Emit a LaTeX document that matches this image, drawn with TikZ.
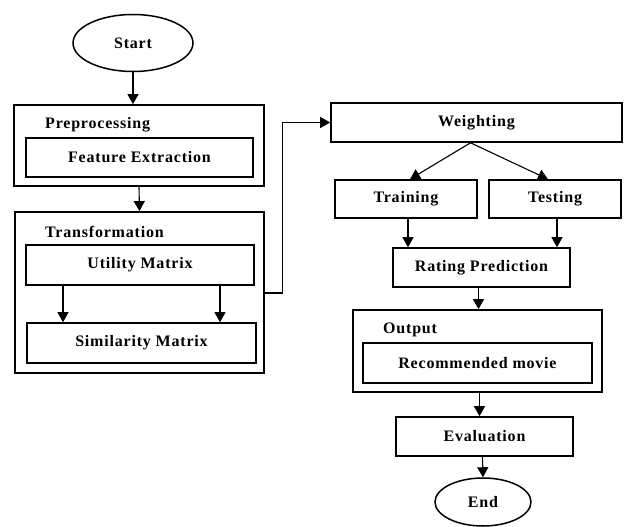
\documentclass[tikz,border=0pt]{standalone}
\usepackage{fontspec}
\setmainfont{Liberation Serif}[LetterSpace=5]
\usetikzlibrary{arrows.meta,shapes.geometric}

\tikzset{
    box/.style={draw, line width=1.6pt, rectangle, inner sep=0pt, font=\fontsize{16}{19}\selectfont\bfseries},
    group/.style={draw, line width=1.8pt, rectangle, inner sep=0pt},
    term/.style={draw, line width=1.5pt, ellipse, inner sep=0pt, font=\fontsize{16}{19}\selectfont\bfseries},
    title/.style={anchor=west, inner sep=0pt, font=\fontsize{16}{19}\selectfont\bfseries},
    arr/.style={line width=1.1pt, -{Triangle[width=11pt,length=10pt]}}
}

\begin{document}
\begin{tikzpicture}[x=1pt, y=-1pt]
\useasboundingbox (0,0) rectangle (625,527);

% left column
\node[term, minimum width=120, minimum height=57] (start) at (133,43) {Start};
\node[group, minimum width=250, minimum height=81] (pre) at (139,145.5) {};
\node[title] (prelabel) at (45,125) {Preprocessing};
\node[box, minimum width=227, minimum height=39] (feat) at (139.5,157.5) {Feature Extraction};
\node[group, minimum width=249, minimum height=161] (trans) at (139.5,292.5) {};
\node[title] (translabel) at (45,232) {Transformation};
\node[box, minimum width=228, minimum height=40] (util) at (140,265) {Utility Matrix};
\node[box, minimum width=229, minimum height=40] (sim) at (141.5,343) {Similarity Matrix};

% right column
\node[box, minimum width=291, minimum height=39] (weight) at (476.5,122.5) {Weighting};
\node[box, minimum width=142, minimum height=38] (train) at (406,199) {Training};
\node[box, minimum width=132, minimum height=38] (test) at (555,199) {Testing};
\node[box, minimum width=177, minimum height=39] (rating) at (481.5,267.5) {Rating Prediction};
\node[group, minimum width=249, minimum height=82] (out) at (477.5,351) {};
\node[title] (outlabel) at (383,330) {Output};
\node[box, minimum width=229, minimum height=40] (rec) at (477.5,363) {Recommended movie};
\node[box, minimum width=177, minimum height=39] (eval) at (484.5,436.5) {Evaluation};
\node[term, minimum width=96, minimum height=48] (endn) at (483,502) {End};

\draw[arr] (start.south) -- (start.south |- pre.north);
\draw[arr] (pre.south) -- (trans.north);
\draw[arr] (util.south -| 63,0) -- (sim.north -| 63,0);
\draw[arr] (util.south -| 220,0) -- (sim.north -| 220,0);
\draw[arr] (trans.east |- 0,293) -| ([xshift=-48pt]weight.west) -- (weight.west);
\draw[arr] ([xshift=-6pt]weight.south) -- ([xshift=4pt]train.north);
\draw[arr] ([xshift=-6pt]weight.south) -- ([xshift=-7pt]test.north);
\draw[arr] ([xshift=2pt]train.south) -- ([xshift=2pt]train.south |- rating.north);
\draw[arr] ([xshift=2pt]test.south) -- ([xshift=2pt]test.south |- rating.north);
\draw[arr] ([xshift=-3pt]rating.south) -- ([xshift=-3pt]rating.south |- out.north);
\draw[arr] ([xshift=2pt]out.south) -- ([xshift=2pt]out.south |- eval.north);
\draw[arr] ([xshift=-2pt]eval.south) -- (endn.north);
\end{tikzpicture}
\end{document}
